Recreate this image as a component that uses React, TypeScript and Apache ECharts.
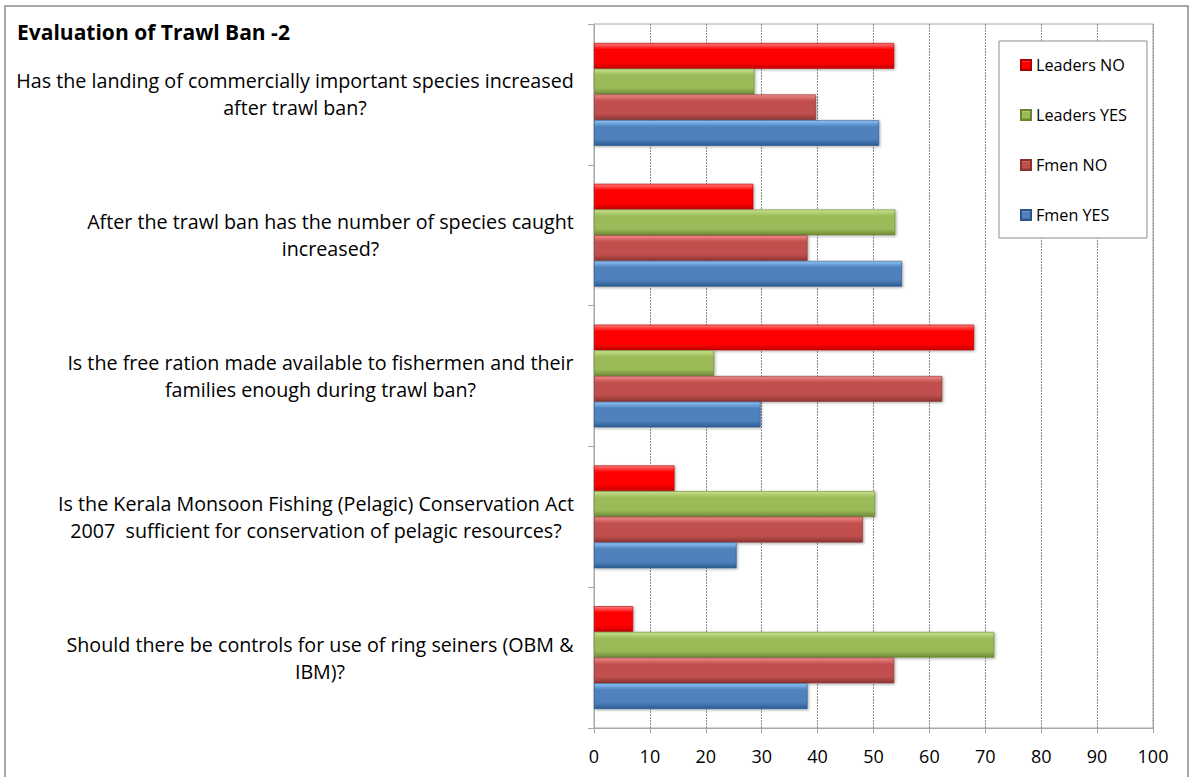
import React, { useEffect, useRef } from "react";
import * as echarts from "echarts";

const categories: string[] = [
  "Has the landing of commercially important species increased\nafter trawl ban?",
  "After the trawl ban has the number of species caught\nincreased?",
  "Is the free ration made available to fishermen and their\nfamilies enough during trawl ban?",
  "Is the Kerala Monsoon Fishing (Pelagic) Conservation Act\n2007  sufficient for conservation of pelagic resources?",
  "Should there be controls for use of ring seiners (OBM &\nIBM)?",
];

const leadersNo: number[] = [53.7, 28.5, 68.0, 14.4, 7.0];
const leadersYes: number[] = [28.7, 53.9, 21.5, 50.3, 71.6];
const fmenNo: number[] = [39.7, 38.2, 62.3, 48.1, 53.7];
const fmenYes: number[] = [51.0, 55.1, 29.8, 25.5, 38.2];

const xTicks: number[] = [0, 10, 20, 30, 40, 50, 60, 70, 80, 90, 100];

const TITLE = "Evaluation of Trawl Ban -2";
const FONT = "Open Sans";

function grad(top: string, mid: string, bottom: string) {
  return new echarts.graphic.LinearGradient(0, 0, 0, 1, [
    { offset: 0, color: top },
    { offset: 0.25, color: mid },
    { offset: 0.75, color: mid },
    { offset: 1, color: bottom },
  ]);
}

export default function App() {
  const ref = useRef<HTMLDivElement>(null);
  useEffect(() => {
    if (!ref.current) return;
    const chart = echarts.init(ref.current, null, { renderer: "svg" });

    const canvas = document.createElement("canvas");
    const ctx = canvas.getContext("2d")!;
    const measure = (text: string, size: number, weight = "normal") => {
      ctx.font = `${weight} ${size}px "${FONT}"`;
      return ctx.measureText(text).width;
    };
    // fit label font so the widest line spans like the reference (~558px)
    const firstLine = categories[0].split("\n")[0];
    const labelSize = Math.max(14, Math.min(22, (18 * 558) / measure(firstLine, 18)));
    const titleSize = Math.max(16, Math.min(26, (20 * 273) / measure(TITLE, 20, "bold")));
    const legendSize = Math.max(12, Math.min(18, (15 * 91) / measure("Leaders YES", 15)));

    const rich: Record<string, any> = {};
    categories.forEach((c, i) => {
      const w = Math.max(...c.split("\n").map((l) => measure(l, labelSize)));
      rich["c" + i] = {
        width: Math.ceil(w) + 2,
        align: "center",
        fontSize: labelSize,
        fontFamily: FONT,
        color: "#000",
        lineHeight: 27,
      };
    });

    const mk = (name: string, data: number[], top: string, mid: string, bottom: string, border: string) => ({
      name,
      type: "bar",
      data,
      barGap: "0%",
      barCategoryGap: "27%",
      itemStyle: {
        color: grad(top, mid, bottom),
        borderColor: border,
        borderWidth: 0.6,
        shadowBlur: 3,
        shadowColor: "rgba(0,0,0,0.35)",
        shadowOffsetX: 1,
        shadowOffsetY: 1,
      },
    });

    chart.setOption({
      animation: false,
      backgroundColor: "#fff",
      title: {
        text: TITLE,
        left: 17,
        top: 21,
        padding: 0,
        textStyle: { fontFamily: FONT, fontWeight: "bold", fontSize: titleSize, color: "#000" },
      },
      legend: {
        orient: "vertical",
        left: 999,
        top: 41,
        padding: [16, 20, 15, 21],
        itemGap: 34,
        itemWidth: 10,
        itemHeight: 10,
        icon: "rect",
        borderColor: "#8c8c8c",
        borderWidth: 1,
        backgroundColor: "#fff",
        textStyle: { fontFamily: FONT, fontSize: legendSize, color: "#000", padding: [0, 0, 0, 0] },
        data: ["Leaders NO", "Leaders YES", "Fmen NO", "Fmen YES"],
      },
      graphic: [
        {
          type: "rect",
          shape: { x: 5, y: 6, width: 1183, height: 790 },
          style: { fill: "none", stroke: "#8a8a8a", lineWidth: 1.5 },
          silent: true,
          z: -1,
        },
      ],
      grid: {
        left: 594,
        right: 44,
        top: 24,
        bottom: 49,
        show: true,
        borderColor: "#a6a6a6",
        borderWidth: 1,
        containLabel: false,
      },
      xAxis: {
        type: "value",
        min: 0,
        max: 100,
        interval: 10,
        axisLine: { show: true, lineStyle: { color: "#a6a6a6" } },
        axisTick: { show: true, length: 5, lineStyle: { color: "#a6a6a6" } },
        splitLine: { show: true, lineStyle: { color: "#8c8c8c", type: [2, 1], width: 1 } },
        axisLabel: {
          margin: 19,
          fontFamily: FONT,
          fontSize: 18,
          color: "#000",
          formatter: (v: number) => (xTicks.includes(v) ? String(v) : ""),
        },
      },
      yAxis: {
        type: "category",
        inverse: true,
        data: categories,
        axisLine: { show: true, lineStyle: { color: "#a6a6a6" } },
        axisTick: { show: true, length: 6, alignWithLabel: false, lineStyle: { color: "#a6a6a6" } },
        splitLine: { show: false },
        axisLabel: {
          margin: 19,
          formatter: (v: string) => {
            const i = categories.indexOf(v);
            return v
              .split("\n")
              .map((l) => `{c${i}|${l}}`)
              .join("\n");
          },
          rich,
        },
      },
      series: [
        mk("Leaders NO", leadersNo, "#ff7a7a", "#ff0000", "#c80000", "#b00000"),
        mk("Leaders YES", leadersYes, "#c6e38a", "#9bbb59", "#6f8b35", "#6a8530"),
        mk("Fmen NO", fmenNo, "#f08a88", "#c0504d", "#8c3533", "#8a3230"),
        mk("Fmen YES", fmenYes, "#8cc4f5", "#4f81bd", "#2d5c92", "#2a5588"),
      ],
    });
    return () => chart.dispose();
  }, []);
  return (
    <div
      ref={ref}
      style={{ position: "fixed", left: 0, top: 0, width: 1197, height: 777, background: "#fff" }}
    />
  );
}
